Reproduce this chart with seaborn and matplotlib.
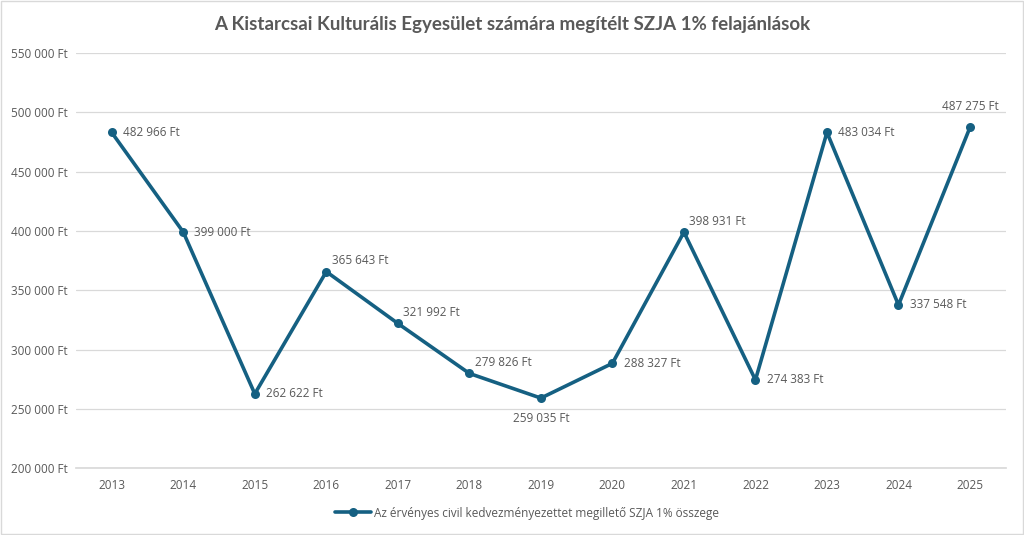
import matplotlib
matplotlib.use("Agg")
import matplotlib.pyplot as plt
import seaborn as sns
import pandas as pd

years = [2013, 2014, 2015, 2016, 2017, 2018, 2019, 2020, 2021, 2022, 2023, 2024, 2025]
values = [482966, 399000, 262622, 365643, 321992, 279826, 259035, 288327,
          398931, 274383, 483034, 337548, 487275]
series_name = "Az érvényes civil kedvezményezettet megillető SZJA 1% összege"
title = "A Kistarcsai Kulturális Egyesület számára megítélt SZJA 1% felajánlások"
y_ticks = [200000, 250000, 300000, 350000, 400000, 450000, 500000, 550000]

# label placement codes
label_pos = ["r", "r", "r", "ar", "ar", "ar", "b", "r", "ar", "r", "r", "r", "a"]

def fmt(v):
    return f"{v:,}".replace(",", " ") + " Ft"

sns.set_theme(style="white")
plt.rcParams['font.family'] = ['Open Sans', 'DejaVu Sans']

LINE = "#156082"
TXT = "#595959"

df = pd.DataFrame({"Év": years, "Összeg": values, "Sorozat": series_name})

fig = plt.figure(figsize=(10.24, 5.35), dpi=100)
ax = fig.add_axes([0.0742, 0.125, 0.908, 0.776])

sns.lineplot(data=df, x="Év", y="Összeg", hue="Sorozat", palette=[LINE], marker="o",
             markersize=6.5, markeredgewidth=0, linewidth=2.6, ax=ax)

ax.set_xlim(2012.5, 2025.5)
ax.set_ylim(200000, 550000)
ax.set_yticks(y_ticks)
ax.set_yticklabels([fmt(t) for t in y_ticks])
ax.set_xticks(years)
ax.set_xticklabels([str(y) for y in years])
ax.tick_params(axis='both', length=0, labelsize=8.5, labelcolor=TXT)
ax.tick_params(axis='x', pad=8)
for lbl in ax.get_yticklabels():
    lbl.set_horizontalalignment('left')
ax.yaxis.set_tick_params(pad=47)
ax.grid(axis='y', color="#d9d9d9", linewidth=0.9)
ax.set_axisbelow(True)
for s in ax.spines.values():
    s.set_visible(False)
ax.spines['bottom'].set_visible(True)
ax.spines['bottom'].set_color("#d9d9d9")
ax.set_xlabel("")
ax.set_ylabel("")

offsets = {"r": ((8, 0), "left", "center"),
           "ar": ((4, 8), "left", "center"),
           "a": ((0, 10), "center", "bottom"),
           "b": ((0, -10), "center", "top")}
for x, y, p in zip(years, values, label_pos):
    (dx, dy), ha, va = offsets[p]
    ax.annotate(fmt(y), (x, y), xytext=(dx, dy), textcoords="offset points",
                ha=ha, va=va, fontsize=8.5, color=TXT)

fig.text(0.5, 0.955, title, ha="center", va="center", fontsize=13.5,
         fontweight="bold", color=TXT, family=['Lato', 'DejaVu Sans'])

ax.legend(loc="center", frameon=False, fontsize=8.5, labelcolor=TXT,
          handlelength=3, handletextpad=0.3)
leg = ax.get_legend()
leg.set_bbox_to_anchor((0.515, 1 - 513 / 535), transform=fig.transFigure)

fig.patches.append(plt.Rectangle((0.001, 0.002), 0.998, 0.996, transform=fig.transFigure,
                                 fill=False, edgecolor="#d9d9d9", linewidth=1))

fig.savefig("out.png", dpi=100, facecolor="white")
